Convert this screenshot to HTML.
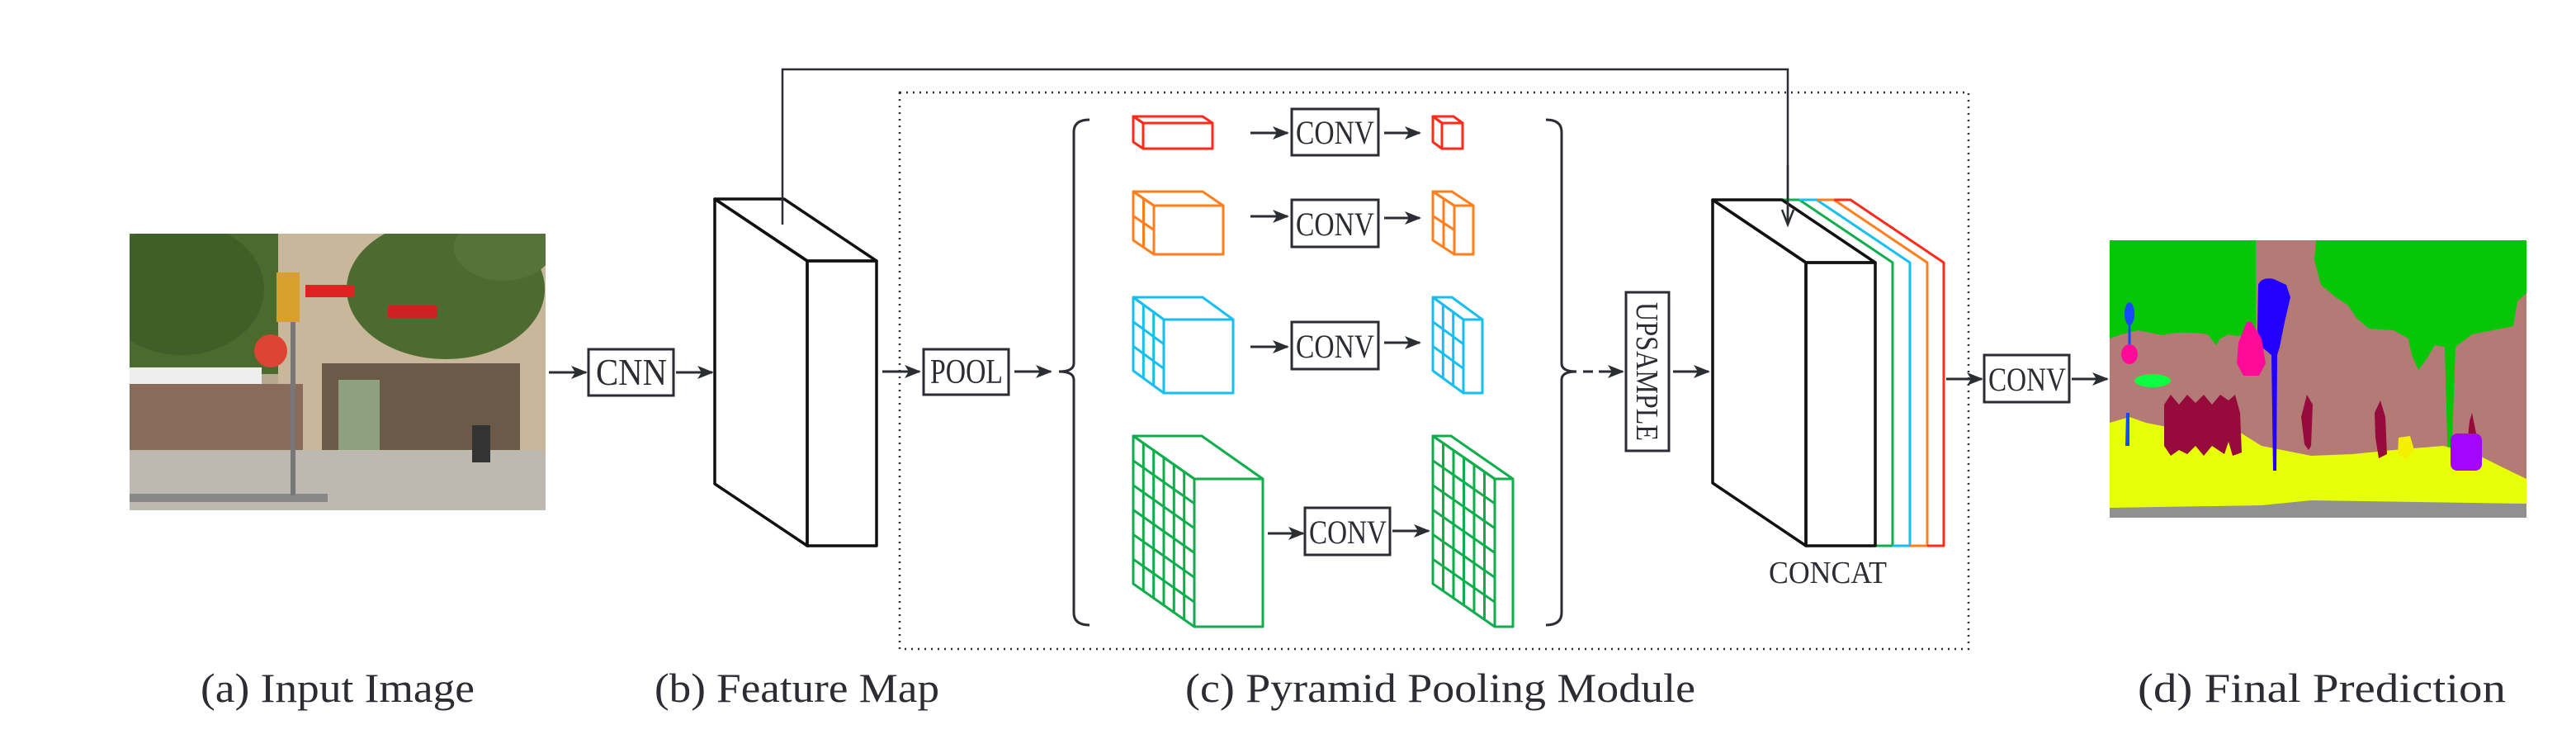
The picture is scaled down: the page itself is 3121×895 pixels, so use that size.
<!DOCTYPE html>
<html><head><meta charset="utf-8"><style>
html,body{margin:0;padding:0;background:#fff;}
svg{display:block;}
text{font-family:"Liberation Serif",serif;fill:#2b2d33;}
</style></head><body>
<svg width="3121" height="895" viewBox="0 0 3121 895" xmlns="http://www.w3.org/2000/svg">
<defs>
<marker id="ah" markerUnits="userSpaceOnUse" markerWidth="20" markerHeight="16" refX="18" refY="8" orient="auto">
<path d="M0,0 L20,8 L0,16 L5,8 Z" fill="#2b2d33"/>
</marker>
<clipPath id="pc"><rect x="157" y="283" width="504" height="335"/></clipPath>
<clipPath id="sc"><rect x="2556" y="291" width="505" height="336"/></clipPath>
</defs>
<rect width="3121" height="895" fill="#fff"/>

<!-- input photo approximation -->
<g clip-path="url(#pc)">
<rect x="157" y="283" width="504" height="335" fill="#b8a890"/>
<rect x="337" y="283" width="324" height="280" fill="#c9b79c"/>
<rect x="157" y="283" width="180" height="170" fill="#4a6a2e"/>
<ellipse cx="220" cy="350" rx="100" ry="80" fill="#3f5f28"/>
<ellipse cx="540" cy="350" rx="120" ry="85" fill="#4d6a30"/>
<ellipse cx="610" cy="300" rx="60" ry="40" fill="#56733a"/>
<rect x="390" y="440" width="240" height="120" fill="#6b5a48"/>
<rect x="410" y="460" width="50" height="90" fill="#8ea080"/>
<rect x="157" y="445" width="160" height="25" fill="#eee"/>
<rect x="157" y="465" width="210" height="80" fill="#8a6a5a"/>
<rect x="157" y="545" width="504" height="73" fill="#bdb8b0"/>
<rect x="157" y="598" width="240" height="10" fill="#888"/>
<rect x="352" y="390" width="6" height="210" fill="#777"/>
<circle cx="328" cy="425" r="20" fill="#d43"/>
<rect x="335" y="330" width="28" height="60" fill="#d9a030"/>
<rect x="370" y="345" width="60" height="15" fill="#d22"/>
<rect x="470" y="370" width="60" height="15" fill="#c22"/>
<rect x="572" y="515" width="22" height="45" fill="#333"/>
</g>

<!-- CNN -->
<line x1="665" y1="451" x2="710" y2="451" stroke="#2b2d33" stroke-width="3" marker-end="url(#ah)"/>
<rect x="713" y="423" width="103" height="56" fill="none" stroke="#2b2d33" stroke-width="3"/>
<text x="722" y="466" font-size="46" textLength="86" lengthAdjust="spacingAndGlyphs">CNN</text>
<line x1="819" y1="451" x2="863" y2="451" stroke="#2b2d33" stroke-width="3" marker-end="url(#ah)"/>

<!-- feature map -->
<g fill="none" stroke="#111" stroke-width="3.5" stroke-linejoin="round">
<polygon points="866,241 950,241 1062,316 978,316"/>
<polygon points="866,241 978,316 978,661 866,586"/>
<rect x="978" y="316" width="84" height="345"/>
</g>

<!-- skip connection -->
<polyline points="948,272 948,84 2166,84 2166,270" fill="none" stroke="#2b2d33" stroke-width="2.5"/>
<polyline points="2159,254 2166,272 2173,254" fill="none" stroke="#2b2d33" stroke-width="2.5"/>

<!-- dotted box -->
<rect x="1090" y="112" width="1295" height="674" fill="none" stroke="#2b2d33" stroke-width="2.5" stroke-dasharray="2 6"/>

<!-- POOL -->
<line x1="1069" y1="450" x2="1114" y2="450" stroke="#2b2d33" stroke-width="3" marker-end="url(#ah)"/>
<rect x="1119" y="423" width="103" height="55" fill="none" stroke="#2b2d33" stroke-width="3"/>
<text x="1127" y="464" font-size="42" textLength="88" lengthAdjust="spacingAndGlyphs">POOL</text>
<line x1="1229" y1="450" x2="1273" y2="450" stroke="#2b2d33" stroke-width="3" marker-end="url(#ah)"/>

<!-- brackets -->
<path d="M1320,145 Q1301,145 1301,160 L1301,440 Q1301,450 1283,450 Q1301,450 1301,460 L1301,742 Q1301,757 1320,757" fill="none" stroke="#2b2d33" stroke-width="3"/>
<path d="M1873,145 Q1892,145 1892,160 L1892,440 Q1892,450 1910,450 Q1892,450 1892,460 L1892,742 Q1892,757 1873,757" fill="none" stroke="#2b2d33" stroke-width="3"/>

<!-- row 1 red -->
<g fill="none" stroke="#ff2a1a" stroke-width="3" stroke-linejoin="round">
<polygon points="1373,141 1457,141 1469,149 1385,149"/>
<polygon points="1373,141 1385,149 1385,180 1373,172"/>
<rect x="1385" y="149" width="84" height="31"/>
<polygon points="1736,141 1761,141 1772,149 1747,149"/>
<polygon points="1736,141 1747,149 1747,180 1736,172"/>
<rect x="1747" y="149" width="25" height="31"/>
</g>
<!-- row 2 orange -->
<g fill="none" stroke="#ff7f1e" stroke-width="3" stroke-linejoin="round">
<polygon points="1373,232 1457,232 1482,249 1398,249"/>
<polygon points="1373,232 1398,249 1398,308 1373,291"/>
<rect x="1398" y="249" width="84" height="59"/>
<line x1="1385.5" y1="240.5" x2="1385.5" y2="299.5"/>
<line x1="1373" y1="261.5" x2="1398" y2="278.5"/>
<polygon points="1736,232 1759,232 1785,249 1762,249"/>
<polygon points="1736,232 1762,249 1762,308 1736,291"/>
<rect x="1762" y="249" width="23" height="59"/>
<line x1="1749" y1="240.5" x2="1749" y2="299.5"/>
<line x1="1736" y1="261.5" x2="1762" y2="278.5"/>
</g>
<!-- row 3 cyan -->
<g fill="none" stroke="#16bff0" stroke-width="3" stroke-linejoin="round">
<polygon points="1373,360 1457,360 1494,387 1410,387"/>
<polygon points="1373,360 1410,387 1410,476 1373,449"/>
<rect x="1410" y="387" width="84" height="89"/>
<line x1="1385.3" y1="369" x2="1385.3" y2="458"/>
<line x1="1397.7" y1="378" x2="1397.7" y2="467"/>
<line x1="1373" y1="389.7" x2="1410" y2="416.7"/>
<line x1="1373" y1="419.3" x2="1410" y2="446.3"/>
<polygon points="1736,360 1759,360 1796,387 1773,387"/>
<polygon points="1736,360 1773,387 1773,476 1736,449"/>
<rect x="1773" y="387" width="23" height="89"/>
<line x1="1748.3" y1="369" x2="1748.3" y2="458"/>
<line x1="1760.7" y1="378" x2="1760.7" y2="467"/>
<line x1="1736" y1="389.7" x2="1773" y2="416.7"/>
<line x1="1736" y1="419.3" x2="1773" y2="446.3"/>
</g>
<!-- row 4 green -->
<g fill="none" stroke="#0fae4b" stroke-width="3" stroke-linejoin="round">
<polygon points="1373,528 1456,528 1530,580 1447,580"/>
<polygon points="1373,528 1447,580 1447,759 1373,707"/>
<rect x="1447" y="580" width="83" height="179"/>
<line x1="1385.3" y1="536.7" x2="1385.3" y2="715.7"/>
<line x1="1397.7" y1="545.3" x2="1397.7" y2="724.3"/>
<line x1="1410" y1="554" x2="1410" y2="733"/>
<line x1="1422.3" y1="562.7" x2="1422.3" y2="741.7"/>
<line x1="1434.7" y1="571.3" x2="1434.7" y2="750.3"/>
<line x1="1373" y1="557.8" x2="1447" y2="609.8"/>
<line x1="1373" y1="587.7" x2="1447" y2="639.7"/>
<line x1="1373" y1="617.5" x2="1447" y2="669.5"/>
<line x1="1373" y1="647.3" x2="1447" y2="699.3"/>
<line x1="1373" y1="677.2" x2="1447" y2="729.2"/>
<polygon points="1736,528 1758,528 1833,580 1811,580"/>
<polygon points="1736,528 1811,580 1811,759 1736,707"/>
<rect x="1811" y="580" width="22" height="179"/>
<line x1="1748.5" y1="536.7" x2="1748.5" y2="715.7"/>
<line x1="1761" y1="545.3" x2="1761" y2="724.3"/>
<line x1="1773.5" y1="554" x2="1773.5" y2="733"/>
<line x1="1786" y1="562.7" x2="1786" y2="741.7"/>
<line x1="1798.5" y1="571.3" x2="1798.5" y2="750.3"/>
<line x1="1736" y1="557.8" x2="1811" y2="609.8"/>
<line x1="1736" y1="587.7" x2="1811" y2="639.7"/>
<line x1="1736" y1="617.5" x2="1811" y2="669.5"/>
<line x1="1736" y1="647.3" x2="1811" y2="699.3"/>
<line x1="1736" y1="677.2" x2="1811" y2="729.2"/>
</g>

<!-- CONV boxes + arrows -->
<g stroke="#2b2d33" stroke-width="3">
<line x1="1515" y1="161" x2="1560" y2="161" marker-end="url(#ah)"/>
<line x1="1677" y1="161" x2="1720" y2="161" marker-end="url(#ah)"/>
<line x1="1515" y1="262" x2="1560" y2="262" marker-end="url(#ah)"/>
<line x1="1677" y1="264" x2="1720" y2="264" marker-end="url(#ah)"/>
<line x1="1515" y1="420" x2="1560" y2="420" marker-end="url(#ah)"/>
<line x1="1677" y1="415" x2="1720" y2="415" marker-end="url(#ah)"/>
<line x1="1536" y1="646" x2="1579" y2="646" marker-end="url(#ah)"/>
<line x1="1687" y1="643" x2="1731" y2="643" marker-end="url(#ah)"/>
</g>
<g fill="none" stroke="#2b2d33" stroke-width="3">
<rect x="1565" y="132" width="105" height="56"/>
<rect x="1565" y="242" width="105" height="57"/>
<rect x="1565" y="390" width="105" height="57"/>
<rect x="1581" y="615" width="103" height="57"/>
</g>
<g font-size="40">
<text x="1570" y="174" textLength="95" lengthAdjust="spacingAndGlyphs">CONV</text>
<text x="1570" y="285" textLength="95" lengthAdjust="spacingAndGlyphs">CONV</text>
<text x="1570" y="433" textLength="95" lengthAdjust="spacingAndGlyphs">CONV</text>
<text x="1586" y="658" textLength="94" lengthAdjust="spacingAndGlyphs">CONV</text>
</g>

<!-- to upsample -->
<line x1="1918" y1="450" x2="1930" y2="450" stroke="#2b2d33" stroke-width="3"/>
<line x1="1937" y1="450" x2="1966" y2="450" stroke="#2b2d33" stroke-width="3" marker-end="url(#ah)"/>
<rect x="1970" y="354" width="52" height="192" fill="none" stroke="#2b2d33" stroke-width="3"/>
<text transform="translate(1983,366) rotate(90)" font-size="38" textLength="168" lengthAdjust="spacingAndGlyphs">UPSAMPLE</text>
<line x1="2027" y1="450" x2="2070" y2="450" stroke="#2b2d33" stroke-width="3" marker-end="url(#ah)"/>

<!-- concat -->
<g fill="none" stroke-width="3" stroke-linejoin="round">
<g stroke="#0fae4b"><polyline points="2159,242 2180,242 2293,318 2293,661 2272,661"/></g>
<g stroke="#16bff0"><polyline points="2180,242 2201,242 2314,318 2314,661 2293,661"/></g>
<g stroke="#ff7f1e"><polyline points="2201,242 2222,242 2335,318 2335,661 2314,661"/></g>
<g stroke="#ff2a1a"><polyline points="2222,242 2242,242 2355,318 2355,661 2335,661"/></g>
<g stroke="#111" stroke-width="3.5">
<polygon points="2075,242 2159,242 2272,318 2188,318"/>
<polygon points="2075,242 2188,318 2188,661 2075,585"/>
<rect x="2188" y="318" width="84" height="343"/>
</g>
</g>
<line x1="2166" y1="200" x2="2166" y2="272" stroke="#2b2d33" stroke-width="2.5"/>
<text x="2143" y="706" font-size="38" textLength="143" lengthAdjust="spacingAndGlyphs">CONCAT</text>

<!-- final conv -->
<line x1="2358" y1="459" x2="2401" y2="459" stroke="#2b2d33" stroke-width="3" marker-end="url(#ah)"/>
<rect x="2404" y="430" width="103" height="57" fill="none" stroke="#2b2d33" stroke-width="3"/>
<text x="2409" y="473" font-size="40" textLength="94" lengthAdjust="spacingAndGlyphs">CONV</text>
<line x1="2510" y1="459" x2="2553" y2="459" stroke="#2b2d33" stroke-width="3" marker-end="url(#ah)"/>

<!-- segmentation -->
<g clip-path="url(#sc)">
<rect x="2556" y="291" width="505" height="336" fill="#b47a76"/>
<path d="M2556,291 L2733,291 L2733,400 Q2720,410 2700,405 L2690,410 L2685,418 L2675,405 Q2640,400 2620,406 L2590,400 L2570,405 L2556,410 Z" fill="#06c706"/>
<path d="M2806,291 L3061,291 L3061,355 L3050,365 L3045,395 L3020,400 L2995,405 L2975,420 L2970,560 L2966,570 L2962,420 L2950,418 L2940,435 L2930,448 L2922,430 L2918,410 L2900,400 L2870,398 L2855,385 L2845,370 L2830,360 L2812,345 L2804,315 Z" fill="#06c706"/>
<path d="M2556,512 L2580,505 L2600,512 L2640,520 L2700,515 L2740,540 L2800,552 L2850,550 L2900,545 L2960,540 L3000,550 L3030,565 L3061,580 L3061,627 L2556,627 Z" fill="#e8ff0a"/>
<path d="M2556,615 L2740,612 L2800,606 L3061,610 L3061,627 L2556,627 Z" fill="#909090"/>
<path d="M2736,345 Q2740,335 2755,338 L2770,345 L2775,360 L2768,390 L2762,420 L2759,430 L2758,570 L2754,570 L2752,430 L2740,420 L2735,400 Z" fill="#2200ff"/>
<path d="M2722,390 L2728,390 L2740,410 L2745,440 L2737,455 L2718,455 L2710,440 L2712,415 Z" fill="#ff0a99"/>
<ellipse cx="2580" cy="380" rx="6" ry="14" fill="#1648ff"/>
<line x1="2580" y1="390" x2="2580" y2="420" stroke="#1648ff" stroke-width="3"/>
<ellipse cx="2580" cy="429" rx="10" ry="12" fill="#ff0a99"/>
<ellipse cx="2608" cy="461" rx="22" ry="8" fill="#0dff3f"/>
<path d="M2622,490 L2630,478 L2640,490 L2650,478 L2660,488 L2670,478 L2680,490 L2690,478 L2700,485 L2708,478 L2714,500 L2716,548 L2705,552 L2700,535 L2695,550 L2680,540 L2670,552 L2660,540 L2650,550 L2640,545 L2630,552 L2622,540 Z" fill="#970a3c"/>
<path d="M2795,478 L2802,490 L2800,540 L2797,545 L2792,538 L2788,505 Z" fill="#970a3c"/>
<path d="M2884,485 L2890,505 L2892,550 L2882,555 L2878,530 L2877,500 Z" fill="#970a3c"/>
<path d="M2995,500 L3000,525 L2998,545 L2990,530 L2992,510 Z" fill="#970a3c"/>
<rect x="2969" y="525" width="38" height="45" rx="8" fill="#a305ff"/>
<path d="M2906,530 L2920,528 L2925,545 L2915,556 L2905,550 Z" fill="#f5f000"/>
<path d="M2576,500 L2580,500 L2580,540 L2575,540 Z" fill="#1648ff"/>
</g>

<!-- captions -->
<g font-size="50">
<text x="243" y="850" textLength="332" lengthAdjust="spacingAndGlyphs">(a) Input Image</text>
<text x="793" y="850" textLength="345" lengthAdjust="spacingAndGlyphs">(b) Feature Map</text>
<text x="1436" y="850" textLength="618" lengthAdjust="spacingAndGlyphs">(c) Pyramid Pooling Module</text>
<text x="2590" y="850" textLength="446" lengthAdjust="spacingAndGlyphs">(d) Final Prediction</text>
</g>
</svg>
</body></html>
